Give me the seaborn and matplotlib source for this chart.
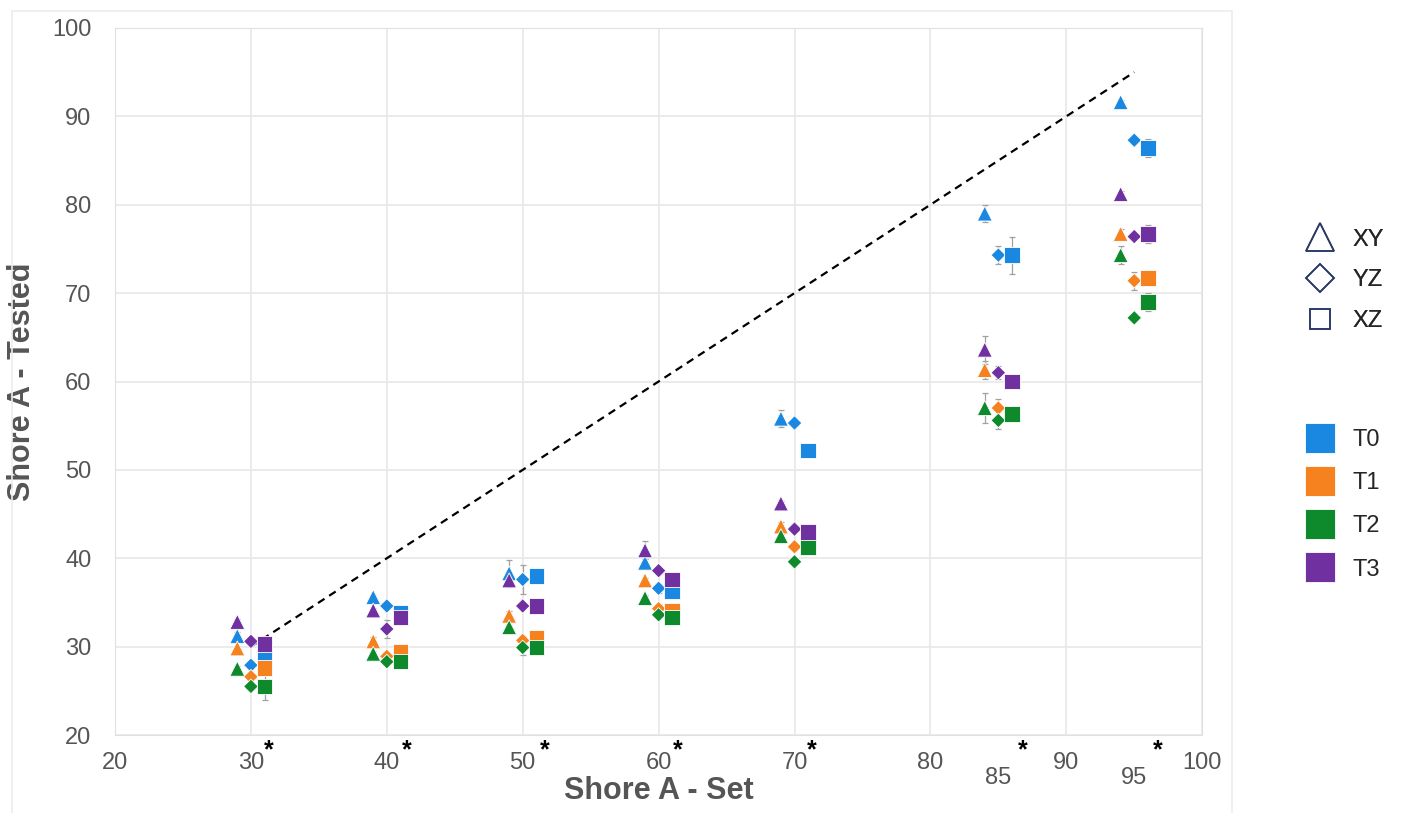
import matplotlib
matplotlib.use("Agg")
import matplotlib.pyplot as plt
import matplotlib.transforms as mtransforms
from matplotlib.lines import Line2D
from matplotlib.patches import Rectangle
import numpy as np
import pandas as pd
import seaborn as sns

# Set hardness groups and x positions of each orientation
groups = [30, 40, 50, 60, 70, 85, 95]
xy_x = [29, 39, 49, 59, 69, 84, 94]
yz_x = [30, 40, 50, 60, 70, 85, 95]
xz_x = [31, 41, 51, 61, 71, 86, 96]
star_x = [31.3, 41.5, 51.6, 61.4, 71.3, 86.8, 96.7]
treatments = ["T0", "T1", "T2", "T3"]

# Tested hardness (means) per orientation and treatment
xy_t0 = [31.2, 35.6, 38.3, 39.5, 55.8, 79.0, 91.6]
xy_t1 = [29.8, 30.6, 33.5, 37.5, 43.6, 61.3, 76.7]
xy_t2 = [27.5, 29.2, 32.2, 35.5, 42.5, 57.0, 74.3]
xy_t3 = [32.8, 34.1, 37.5, 40.9, 46.2, 63.6, 81.2]

yz_t0 = [27.9, 34.6, 37.6, 36.6, 55.3, 74.3, 87.3]
yz_t1 = [26.6, 28.9, 30.7, 34.3, 41.3, 57.0, 71.4]
yz_t2 = [25.5, 28.3, 29.9, 33.6, 39.6, 55.6, 67.2]
yz_t3 = [30.6, 32.0, 34.6, 38.6, 43.3, 61.0, 76.4]

xz_t0 = [28.9, 33.8, 38.0, 36.3, 52.2, 74.3, 86.4]
xz_t1 = [27.6, 29.4, 31.0, 34.1, 42.1, 60.0, 71.7]
xz_t2 = [25.5, 28.3, 29.9, 33.3, 41.3, 56.3, 69.0]
xz_t3 = [30.3, 33.3, 34.6, 37.6, 43.0, 60.0, 76.7]

# Standard deviations
xy_e0 = [0.5, 0.3, 1.5, 0.4, 1.0, 1.0, 0.3]
xy_e1 = [0.3, 0.5, 0.5, 0.3, 0.5, 1.0, 0.5]
xy_e2 = [0.3, 0.3, 0.3, 0.3, 0.3, 1.7, 1.0]
xy_e3 = [0.3, 0.3, 0.5, 1.0, 0.3, 1.6, 0.3]
yz_e0 = [0.3, 0.3, 1.6, 0.5, 0.3, 1.0, 0.3]
yz_e1 = [0.3, 0.5, 0.5, 0.5, 0.3, 1.0, 1.0]
yz_e2 = [0.3, 0.3, 0.8, 0.3, 0.3, 1.0, 0.3]
yz_e3 = [0.3, 1.0, 0.3, 0.3, 0.3, 0.7, 0.3]
xz_e0 = [0.3, 0.3, 0.3, 0.3, 0.3, 2.1, 1.0]
xz_e1 = [0.3, 0.3, 0.3, 0.3, 0.3, 0.3, 0.3]
xz_e2 = [1.5, 0.3, 0.3, 0.3, 0.3, 0.5, 1.0]
xz_e3 = [0.3, 0.3, 0.3, 0.3, 0.3, 0.3, 1.0]

# Ideal line (tested = set)
ideal_x = [30, 95]
ideal_y = [30, 95]

palette = {"T0": "#1a88e0", "T1": "#f5821f", "T2": "#0e8a2c", "T3": "#7030a0"}
outline = "#2b3a67"

# Build a long table
rows = []
orient = {
    "XY": (xy_x, [xy_t0, xy_t1, xy_t2, xy_t3], [xy_e0, xy_e1, xy_e2, xy_e3]),
    "YZ": (yz_x, [yz_t0, yz_t1, yz_t2, yz_t3], [yz_e0, yz_e1, yz_e2, yz_e3]),
    "XZ": (xz_x, [xz_t0, xz_t1, xz_t2, xz_t3], [xz_e0, xz_e1, xz_e2, xz_e3]),
}
for o, (xs, vals, errs) in orient.items():
    for t, v, e in zip(treatments, vals, errs):
        for g, x, yv, ev in zip(groups, xs, v, e):
            rows.append({"orient": o, "T": t, "group": g, "x": x, "y": yv, "err": ev})
df = pd.DataFrame(rows)

sns.set_style("white")
plt.rcParams["font.family"] = ["Liberation Sans", "DejaVu Sans"]

fig = plt.figure(figsize=(14.01, 8.13), dpi=100)
ax = fig.add_axes([0.0821, 0.0959, 0.776, 0.8697])

# Outer light frame
fig.patches.append(Rectangle((12 / 1401, -0.05), 1220 / 1401, 1.05 - 11 / 813,
                             transform=fig.transFigure, fill=False,
                             edgecolor="#ececec", linewidth=1.2, zorder=0))

ax.plot(ideal_x, ideal_y, linestyle=(0, (3.5, 2.5)), color="black", linewidth=1.6, zorder=1)

# Error bars
ax.errorbar(df.x, df.y, yerr=df.err, fmt="none", ecolor="#a0a0a0",
            elinewidth=0.9, capsize=2, capthick=0.9, zorder=2)

markers = {"XY": ("^", 115), "YZ": ("D", 55), "XZ": ("s", 125)}
for o, (m, s) in markers.items():
    sns.scatterplot(data=df[df.orient == o], x="x", y="y", hue="T",
                    hue_order=treatments, palette=palette, marker=m, s=s,
                    edgecolor="white", linewidth=0.6, legend=False, ax=ax, zorder=3)

ax.set_xlim(20, 100)
ax.set_ylim(20, 100)
ax.set_xticks(range(20, 101, 10))
ax.set_yticks(range(20, 101, 10))
ax.grid(True, color="#e8e8e8", linewidth=1.2)
ax.set_axisbelow(True)
for sp in ax.spines.values():
    sp.set_color("#e0e0e0")
ax.tick_params(axis="both", length=0, labelsize=17, labelcolor="#555555")
ax.tick_params(axis="x", pad=12)
ax.tick_params(axis="y", pad=17)

# Extra labels for 85 and 95 and significance stars
trans = mtransforms.blended_transform_factory(ax.transData, ax.transAxes)
for v in [85, 95]:
    ax.text(v, -0.061, str(v), transform=trans, ha="center", va="center",
            fontsize=17, color="#555555")
for sx in star_x:
    ax.text(sx, -0.021, "*", transform=trans, ha="center", va="center",
            fontsize=18, fontweight="bold", color="black")

ax.set_xlabel("Shore A - Set", fontsize=22, fontweight="bold", color="#555555", labelpad=2)
ax.set_ylabel("Shore A - Tested", fontsize=22, fontweight="bold", color="#555555", labelpad=11)

# Legends
h1 = [Line2D([], [], linestyle="none", marker=m, markersize=ms, markerfacecolor="none",
             markeredgecolor=outline, markeredgewidth=1.2, label=o)
      for o, m, ms in [("XY", "^", 20), ("YZ", "D", 14), ("XZ", "s", 14)]]
leg1 = fig.legend(handles=h1, loc="center left", bbox_to_anchor=(0.91, 0.655),
                  frameon=False, fontsize=17, handletextpad=0.4, labelspacing=0.8)
fig.add_artist(leg1)
h2 = [Line2D([], [], linestyle="none", marker="s", markersize=21, markerfacecolor=palette[t],
             markeredgecolor="white", markeredgewidth=0.6, label=t) for t in treatments]
fig.legend(handles=h2, loc="center left", bbox_to_anchor=(0.91, 0.379),
           frameon=False, fontsize=17, handletextpad=0.4, labelspacing=0.9)

fig.savefig("out.png", dpi=100)
